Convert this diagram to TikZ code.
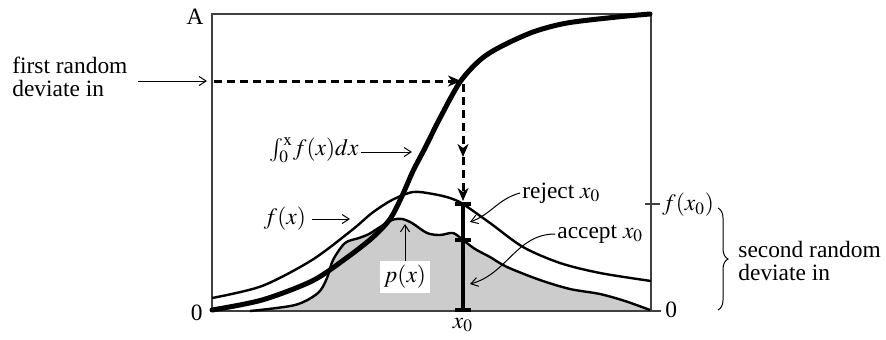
\documentclass[tikz,border=0pt]{standalone}
\usepackage{mathptmx}
\usepackage{fontspec}
\setmainfont{Liberation Serif}
\usetikzlibrary{arrows.meta,decorations.pathreplacing}
\definecolor{axisgray}{HTML}{404040}
\definecolor{areagray}{HTML}{CCCCCC}
\tikzset{
  lbl/.style={font=\fontsize{11.7}{11.3}\selectfont, inner sep=1pt},
  ptr/.style={-{Straight Barb[length=3.5pt,width=4.5pt]}, line width=0.5pt},
  guide/.style={-{Stealth[length=6.5pt,width=5.5pt,inset=2pt]}, line width=1.5pt, dash pattern=on 4pt off 2.5pt},
  curve/.style={line width=1.2pt, line join=round},
}
% accepted density p(x)
\newcommand{\pdensity}{plot[smooth] coordinates {(250,311) (295,305) (318,293)
  (327,278) (333,260) (345,243) (359,238) (369,234) (380,227) (392,220) (402,219)
  (412,223) (427,233) (440,235) (453,233) (463,240) (475,249) (490,257) (507,267)
  (540,280) (570,289) (600,294) (625,301) (650,310)}}

\begin{document}
\begin{tikzpicture}[x=0.5pt, y=-0.5pt]
  \useasboundingbox (0,0) rectangle (886,339);

  % shaded area under p(x)
  \fill[areagray] \pdensity -- cycle;

  % frame and ticks
  \draw[axisgray, line width=0.75pt] (212,14) rectangle (651,311);
  \draw[axisgray, line width=0.6pt] (651,311) -- (661,311);
  \draw[axisgray, line width=0.6pt] (645,204) -- (660,204);

  % comparison function f(x)
  \draw[curve] plot[smooth] coordinates {(212,298) (262,286) (312,260) (352,230)
    (372,213) (392,200) (413,192) (433,194) (450,198) (463,204) (490,223)
    (523,247) (560,263) (600,273) (651,281)};
  \draw[curve] \pdensity;

  % integral of f(x)
  \draw[line width=2.5pt, line cap=round] plot[smooth] coordinates {(212,310) (262,300)
    (312,281) (345,259) (372,238) (390,219) (402,196) (413,171) (425,148) (440,118)
    (460,82) (480,60) (500,47) (533,32) (567,23) (617,17) (650,14)};

  \coordinate (hit) at (461,81);
  \coordinate (leftin) at (214,81);
  \coordinate (drop) at (463,84);
  \coordinate (dropmid) at (463,157);
  \coordinate (droptip) at (463,201);
  \draw[guide] (leftin) -- (hit);
  \draw[guide] (drop) -- (dropmid);
  \draw[guide] (dropmid) -- (droptip);

  % deviate at x0
  \coordinate (rejtop) at (463,204);
  \coordinate (accmid) at (463,240);
  \coordinate (base) at (463,310);
  \draw[line width=2pt] (rejtop) -- (base);
  \foreach \c in {rejtop, accmid, base}
    \draw[line width=2pt] ([xshift=-4pt]\c) -- ([xshift=4pt]\c);

  % axis labels
  \node[lbl, anchor=east] (Alab) at (206,17) {A};
  \node[lbl, anchor=east] (zleft) at (205,313) {0};
  \node[lbl, anchor=west] (zright) at (663,310) {0};
  \node[lbl, anchor=west] (fxzero) at (660,205) {$f(x_0)$};
  \node[lbl] (xzero) at (463,325) {$x_0$};

  % first deviate
  \node[lbl, anchor=west, align=left] (first) at (10,77) {first random\\deviate in};
  \coordinate (firsttail) at (138,81);
  \coordinate (firsthead) at (207,81);
  \draw[ptr] (firsttail) -- (firsthead);

  % curve labels
  \node[lbl] (cdflbl) at (314,150) {$\int_0^{\mathrm{x}}\! f(x)dx$};
  \coordinate (cdftip) at (412,152);
  \draw[ptr] (cdflbl.east |- cdftip) -- (cdftip);

  \node[lbl] (fxlbl) at (285,219) {$f(x)$};
  \coordinate (fxtip) at (350,219);
  \draw[ptr] ([xshift=2pt]fxlbl.east |- fxtip) -- (fxtip);

  \node[lbl, fill=white, inner sep=2pt] (plbl) at (405,277) {$p(x)$};
  \coordinate (ptip) at (405,224);
  \draw[ptr] (plbl.north) -- (ptip);

  \node[lbl, anchor=west] (rej) at (520,193) {reject $x_0$};
  \coordinate (rejtip) at (470,222);
  \draw[ptr] (rej.west) to[out=195, in=20] (rejtip);

  \node[lbl, anchor=west] (acc) at (555,234) {accept $x_0$};
  \coordinate (acctip) at (470,284);
  \draw[ptr] (acc.west) to[out=180, in=15] (acctip);

  % second deviate
  \draw[decorate, decoration={brace, amplitude=5pt}, line width=0.5pt] (718,208) -- (718,310);
  \node[lbl, anchor=west, align=left] (second) at (736,261) {second random\\deviate in};
\end{tikzpicture}
\end{document}
